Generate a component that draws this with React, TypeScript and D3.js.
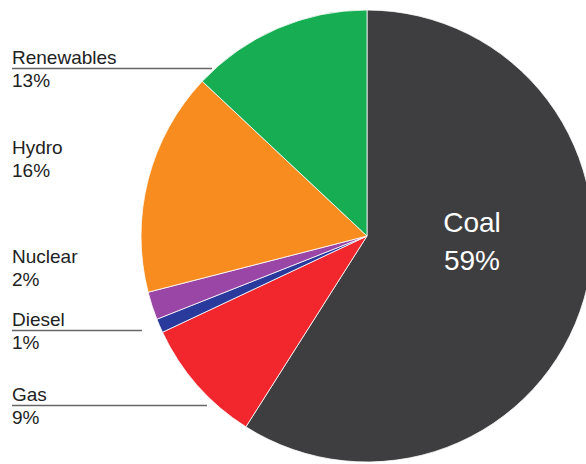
import React from "react";
import * as d3 from "d3";

const categories = ["Coal", "Gas", "Diesel", "Nuclear", "Hydro", "Renewables"];
const shares = [59, 9, 1, 2, 16, 13];
const sliceColors = ["#3e3e40", "#f2272e", "#2a3a9c", "#9a46a6", "#f88c1f", "#17ad52"];

// layout of outside labels (name baseline, optional leader line end x)
const outsideLayout: Record<string, { y: number; lineEnd?: number }> = {
  Renewables: { y: 64, lineEnd: 212 },
  Hydro: { y: 154 },
  Nuclear: { y: 263 },
  Diesel: { y: 326, lineEnd: 142 },
  Gas: { y: 401, lineEnd: 207 },
};

const W = 586;
const H = 464;
const cx = 367;
const cy = 236;
const R = 226;

export default function App() {
  const pie = d3
    .pie<number>()
    .sort(null)
    .value((d) => d)
    .startAngle(0)
    .endAngle(2 * Math.PI);
  const arcs = pie(shares);
  const arc = d3.arc<d3.PieArcDatum<number>>().innerRadius(0).outerRadius(R);
  const font = "'Liberation Sans', Arial, sans-serif";

  return (
    <svg
      width={W}
      height={H}
      style={{ position: "absolute", left: 0, top: 0, background: "#fff" }}
    >
      <g transform={`translate(${cx},${cy})`}>
        {arcs.map((a, i) => (
          <path
            key={categories[i]}
            d={arc(a) || ""}
            fill={sliceColors[i]}
            stroke="#ffffff"
            strokeWidth={0.8}
            strokeLinejoin="round"
          />
        ))}
      </g>
      {categories.map((c, i) => {
        if (c === "Coal") {
          return (
            <g key={c} fill="#ffffff" fontFamily={font} fontSize={28} textAnchor="middle">
              <text x={472} y={232}>{c}</text>
              <text x={472} y={270}>{`${shares[i]}%`}</text>
            </g>
          );
        }
        const l = outsideLayout[c];
        return (
          <g key={c} fill="#222" fontFamily={font} fontSize={19}>
            <text x={12} y={l.y}>{c}</text>
            <text x={12} y={l.y + 23}>{`${shares[i]}%`}</text>
            {l.lineEnd !== undefined && (
              <line x1={12} x2={l.lineEnd} y1={l.y + 4.5} y2={l.y + 4.5} stroke="#666" strokeWidth={1.5} />
            )}
          </g>
        );
      })}
    </svg>
  );
}
